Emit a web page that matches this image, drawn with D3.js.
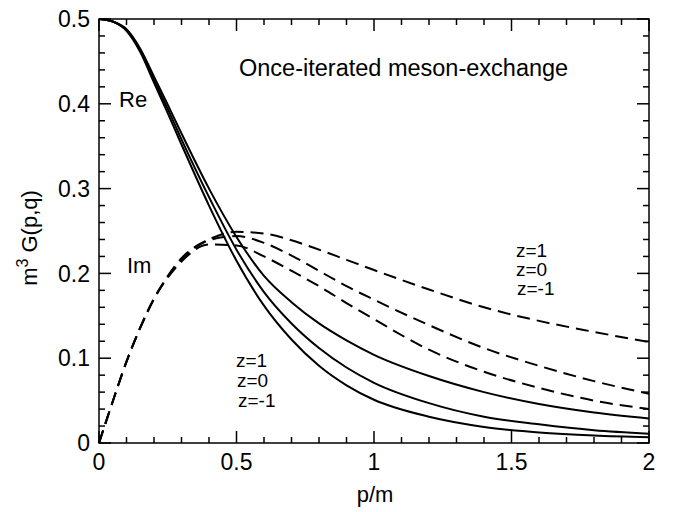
<!DOCTYPE html>
<html>
<head>
<meta charset="utf-8">
<script src="https://cdn.jsdelivr.net/npm/d3@7"></script>
<style>
  html, body { margin: 0; padding: 0; background: white; overflow: hidden; }
  svg { display: block; }
  text { font-family: "Liberation Sans", Arial, Helvetica, sans-serif; fill: black; }
</style>
<script>
var pValues = [0, 0.05, 0.1, 0.15, 0.2, 0.25, 0.3, 0.4, 0.5, 0.6, 0.7, 0.8, 0.9, 1.0, 1.2, 1.4, 1.6, 1.8, 2.0];

// Real parts (solid lines), top to bottom at large p
var reTop    = [0.5, 0.497, 0.488, 0.465, 0.432, 0.399, 0.365, 0.300, 0.243, 0.197, 0.166, 0.141, 0.121, 0.104, 0.079, 0.060, 0.046, 0.036, 0.029];
var reMiddle = [0.5, 0.497, 0.487, 0.463, 0.428, 0.394, 0.358, 0.290, 0.228, 0.178, 0.141, 0.112, 0.089, 0.071, 0.047, 0.031, 0.022, 0.015, 0.011];
var reBottom = [0.5, 0.497, 0.486, 0.461, 0.425, 0.389, 0.352, 0.280, 0.215, 0.162, 0.122, 0.091, 0.068, 0.051, 0.031, 0.019, 0.0125, 0.0088, 0.0067];

// Imaginary parts (dashed lines), top to bottom at large p
var imTop    = [0, 0.049, 0.096, 0.136, 0.170, 0.197, 0.218, 0.240, 0.249, 0.247, 0.239, 0.228, 0.216, 0.204, 0.181, 0.160, 0.144, 0.131, 0.119];
var imMiddle = [0, 0.049, 0.096, 0.136, 0.170, 0.196, 0.216, 0.239, 0.244, 0.236, 0.221, 0.203, 0.185, 0.169, 0.139, 0.112, 0.091, 0.073, 0.058];
var imBottom = [0, 0.049, 0.096, 0.136, 0.170, 0.195, 0.214, 0.234, 0.233, 0.220, 0.203, 0.185, 0.165, 0.146, 0.110, 0.084, 0.065, 0.050, 0.040];

// Tick values
var xMajorTicks = [0, 0.5, 1, 1.5, 2];
var xTickLabels = ["0", "0.5", "1", "1.5", "2"];
var yMajorTicks = [0, 0.1, 0.2, 0.3, 0.4, 0.5];
var yTickLabels = ["0", "0.1", "0.2", "0.3", "0.4", "0.5"];
var zLabels = ["z=1", "z=0", "z=-1"];

function drawChart() {
  // Size of the whole picture and the plotting box
  var width = 673;
  var height = 512;
  var margin = { top: 19, right: 24, bottom: 69, left: 99 };
  var innerWidth = width - margin.left - margin.right;
  var innerHeight = height - margin.top - margin.bottom;

  var x = d3.scaleLinear().domain([0, 2]).range([0, innerWidth]);
  var y = d3.scaleLinear().domain([0, 0.5]).range([innerHeight, 0]);

  var svg = d3.select("body")
    .append("svg")
    .attr("width", width)
    .attr("height", height)
    .append("g")
    .attr("transform", `translate(${margin.left}, ${margin.top})`);

  // Minor ticks every 0.1 on x and every 0.02 on y
  var xMinor = d3.range(0, 21).map(d => d / 10).filter(d => xMajorTicks.indexOf(d) < 0);
  var yMinor = d3.range(0, 26).map(d => d / 50).filter(d => !yMajorTicks.some(t => Math.abs(t - d) < 1e-9));

  var majorLen = 12;
  var minorLen = 6;

  // Bottom and top axes (ticks point inward)
  function xAxisInside(g, flip) {
    g.selectAll(".minor").data(xMinor).enter().append("line")
      .attr("x1", d => x(d)).attr("x2", d => x(d))
      .attr("y1", 0).attr("y2", flip * minorLen);
    g.selectAll(".major").data(xMajorTicks).enter().append("line")
      .attr("x1", d => x(d)).attr("x2", d => x(d))
      .attr("y1", 0).attr("y2", flip * majorLen);
    g.selectAll("line").attr("stroke", "black").attr("stroke-width", 1.5);
  }

  // Left and right axes (ticks point inward)
  function yAxisInside(g, flip) {
    g.selectAll(".minor").data(yMinor).enter().append("line")
      .attr("y1", d => y(d)).attr("y2", d => y(d))
      .attr("x1", 0).attr("x2", flip * minorLen);
    g.selectAll(".major").data(yMajorTicks).enter().append("line")
      .attr("y1", d => y(d)).attr("y2", d => y(d))
      .attr("x1", 0).attr("x2", flip * majorLen);
    g.selectAll("line").attr("stroke", "black").attr("stroke-width", 1.5);
  }

  svg.append("g").attr("transform", `translate(0, ${innerHeight})`).call(xAxisInside, -1);
  svg.append("g").call(xAxisInside, 1);
  svg.append("g").call(yAxisInside, 1);
  svg.append("g").attr("transform", `translate(${innerWidth}, 0)`).call(yAxisInside, -1);

  // Frame around the plot
  svg.append("rect")
    .attr("width", innerWidth)
    .attr("height", innerHeight)
    .attr("fill", "none")
    .attr("stroke", "black")
    .attr("stroke-width", 1.5);

  // Tick labels
  svg.selectAll(".xlabel").data(xMajorTicks).enter().append("text")
    .attr("class", "xlabel")
    .attr("x", d => x(d))
    .attr("y", innerHeight + 27)
    .attr("text-anchor", "middle")
    .style("font-size", "23px")
    .text((d, i) => xTickLabels[i]);

  svg.selectAll(".ylabel").data(yMajorTicks).enter().append("text")
    .attr("class", "ylabel")
    .attr("x", -9)
    .attr("y", d => y(d))
    .attr("dy", "0.36em")
    .attr("text-anchor", "end")
    .style("font-size", "23px")
    .text((d, i) => yTickLabels[i]);

  // The curves
  var line = d3.line()
    .x((d, i) => x(pValues[i]))
    .y(d => y(d))
    .curve(d3.curveMonotoneX);

  [reTop, reMiddle, reBottom].forEach(function (series) {
    svg.append("path")
      .datum(series)
      .attr("fill", "none")
      .attr("stroke", "black")
      .attr("stroke-width", 2)
      .attr("d", line);
  });

  [imTop, imMiddle, imBottom].forEach(function (series) {
    svg.append("path")
      .datum(series)
      .attr("fill", "none")
      .attr("stroke", "black")
      .attr("stroke-width", 2)
      .attr("stroke-dasharray", "13,7")
      .attr("d", line);
  });

  // Axis titles
  svg.append("text")
    .attr("x", innerWidth / 2 + 1)
    .attr("y", innerHeight + 59)
    .attr("text-anchor", "middle")
    .style("font-size", "22px")
    .text("p/m");

  var yTitle = svg.append("text")
    .attr("transform", `translate(${37 - margin.left}, ${238 - margin.top}) rotate(-90)`)
    .attr("text-anchor", "middle")
    .style("font-size", "22px");
  yTitle.append("tspan").text("m");
  yTitle.append("tspan").attr("dy", -9).style("font-size", "16px").text("3");
  yTitle.append("tspan").attr("dy", 9).text(" G(p,q)");

  // Annotations inside the plot
  svg.append("text")
    .attr("x", 239 - margin.left)
    .attr("y", 76 - margin.top)
    .style("font-size", "23.5px")
    .text("Once-iterated meson-exchange");

  svg.append("text")
    .attr("x", 119 - margin.left)
    .attr("y", 107 - margin.top)
    .style("font-size", "22px")
    .text("Re");

  svg.append("text")
    .attr("x", 127 - margin.left)
    .attr("y", 273 - margin.top)
    .style("font-size", "22px")
    .text("Im");

  // z labels next to the solid and dashed families
  var lowerZ = [[236, 367], [237, 387], [238, 407]];
  var upperZ = [[516, 257], [516, 276], [517, 295]];

  zLabels.forEach(function (label, i) {
    svg.append("text")
      .attr("x", lowerZ[i][0] - margin.left)
      .attr("y", lowerZ[i][1] - margin.top)
      .style("font-size", "19px")
      .text(label);
    svg.append("text")
      .attr("x", upperZ[i][0] - margin.left)
      .attr("y", upperZ[i][1] - margin.top)
      .style("font-size", "19px")
      .text(label);
  });
}

document.addEventListener("DOMContentLoaded", drawChart);
</script>
</head>
<body>
</body>
</html>
